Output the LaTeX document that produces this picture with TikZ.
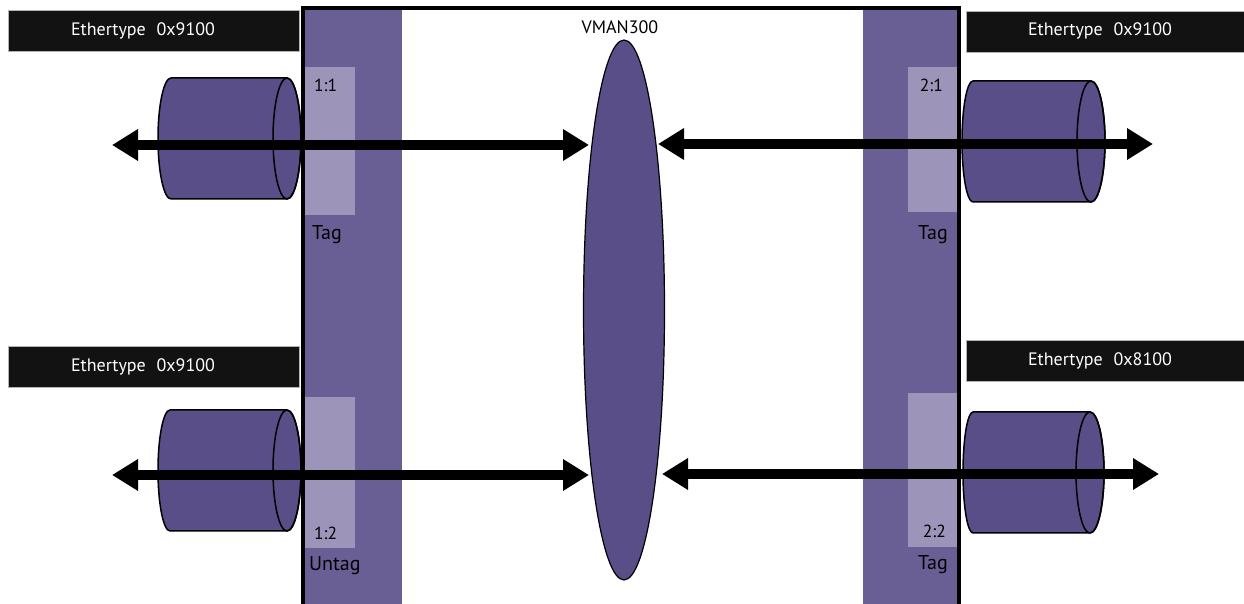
\documentclass[tikz,border=0pt]{standalone}
\usepackage{fontspec}
\setmainfont{PT Sans}
\usetikzlibrary{arrows.meta,shapes.geometric}
\definecolor{bandc}{HTML}{6A5F94}
\definecolor{cylc}{HTML}{5A4E88}
\definecolor{lightc}{HTML}{9D94BA}
\definecolor{boxc}{HTML}{121212}
\tikzset{
  bandfill/.style={fill=bandc,draw=none},
  lightfill/.style={fill=lightc,draw=none},
  ethbox/.style={fill=boxc,draw=gray!60,line width=0.8pt,inner sep=0pt,minimum height=41pt},
  ethtext/.style={text=white,font=\fontsize{18}{18}\selectfont,inner sep=0pt,anchor=base},
  portlbl/.style={font=\fontsize{17.5}{17.5}\selectfont,inner sep=0pt},
  taglbl/.style={font=\fontsize{20}{20}\selectfont,inner sep=0pt},
  cylstyle/.style={fill=cylc,draw=black,line width=1.5pt,line join=round},
  bigarrow/.style={line width=10pt,arrows={Triangle[length=26pt,width=30pt]-Triangle[length=26pt,width=30pt]}},
}
\newcommand\mycyl[4]{%
  \filldraw[cylstyle] (#1,#4+60.5) -- (#3,#4+60.5)
    arc[start angle=90,end angle=-90,x radius=14,y radius=60.5]
    -- (#1,#4-60.5)
    arc[start angle=270,end angle=90,x radius=#2,y radius=60.5] -- cycle;
  \draw[line width=1.5pt] (#3,#4) ellipse [x radius=14,y radius=60.5];}
\begin{document}
\begin{tikzpicture}[x=1pt,y=1pt]
\useasboundingbox (0,0) rectangle (1244,604);
% bands
\fill[bandfill] (304.5,0) rectangle (402,594);
\fill[bandfill] (863,0) rectangle (957,594);
% light port boxes
\fill[lightfill] (304.5,389) rectangle (355,537);
\fill[lightfill] (304.5,56) rectangle (355,207);
\fill[lightfill] (908,392) rectangle (957,537);
\fill[lightfill] (908,57) rectangle (957,211);
% frame
\draw[line width=4pt,line join=miter] (302.5,0) -- (302.5,595.5) -- (959,595.5) -- (959,0);
% ethertype boxes
\node[ethbox,minimum width=291pt] (b1) at (153.5,573.5) {};
\node[ethbox,minimum width=280pt] (b2) at (1106,572.5) {};
\node[ethbox,minimum width=291pt] (b3) at (153.5,237.5) {};
\node[ethbox,minimum width=280pt] (b4) at (1106,243.5) {};
\node[ethtext] (t1) at (143,568) {Ethertype\hspace{0.6em}0x9100};
\node[ethtext] (t2) at (1100,568) {Ethertype\hspace{0.6em}0x9100};
\node[ethtext] (t3) at (143,232) {Ethertype\hspace{0.6em}0x9100};
\node[ethtext] (t4) at (1100,238) {Ethertype\hspace{0.6em}0x8100};
% cylinders
\mycyl{171}{13}{287}{465.5}
\mycyl{170}{12}{287}{133.5}
\mycyl{973}{11}{1091}{462.5}
\mycyl{973}{10}{1090}{131.5}
% VMAN ellipse
\node[ellipse,fill=cylc,draw=black,line width=1.2pt,minimum width=81pt,minimum height=540pt,inner sep=0pt] (vman) at (624,294) {};
\node[font=\fontsize{18}{18}\selectfont,inner sep=0pt,anchor=base] (vlbl) at (620,570) {VMAN300};
% arrow end points
\coordinate (a1l) at (112,459);
\coordinate (a1r) at (589,459);
\coordinate (a2l) at (658,460);
\coordinate (a2r) at (1153,460);
\coordinate (a3l) at (112,129);
\coordinate (a3r) at (589,129);
\coordinate (a4l) at (662,130);
\coordinate (a4r) at (1159,130);
\draw[bigarrow] (a1l) -- (a1r);
\draw[bigarrow] (a2l) -- (a2r);
\draw[bigarrow] (a3l) -- (a3r);
\draw[bigarrow] (a4l) -- (a4r);
% port labels
\node[portlbl,anchor=base west] (p11) at (314,512) {1:1};
\node[taglbl,anchor=base west] (g11) at (312,364) {Tag};
\node[portlbl,anchor=base west] (p12) at (314,64) {1:2};
\node[taglbl,anchor=base west] (g12) at (309,33) {Untag};
\node[portlbl,anchor=base east] (p21) at (943,512) {2:1};
\node[taglbl,anchor=base east] (g21) at (948,364) {Tag};
\node[portlbl,anchor=base east] (p22) at (946,66) {2:2};
\node[taglbl,anchor=base east] (g22) at (948,34) {Tag};
\end{tikzpicture}
\end{document}
